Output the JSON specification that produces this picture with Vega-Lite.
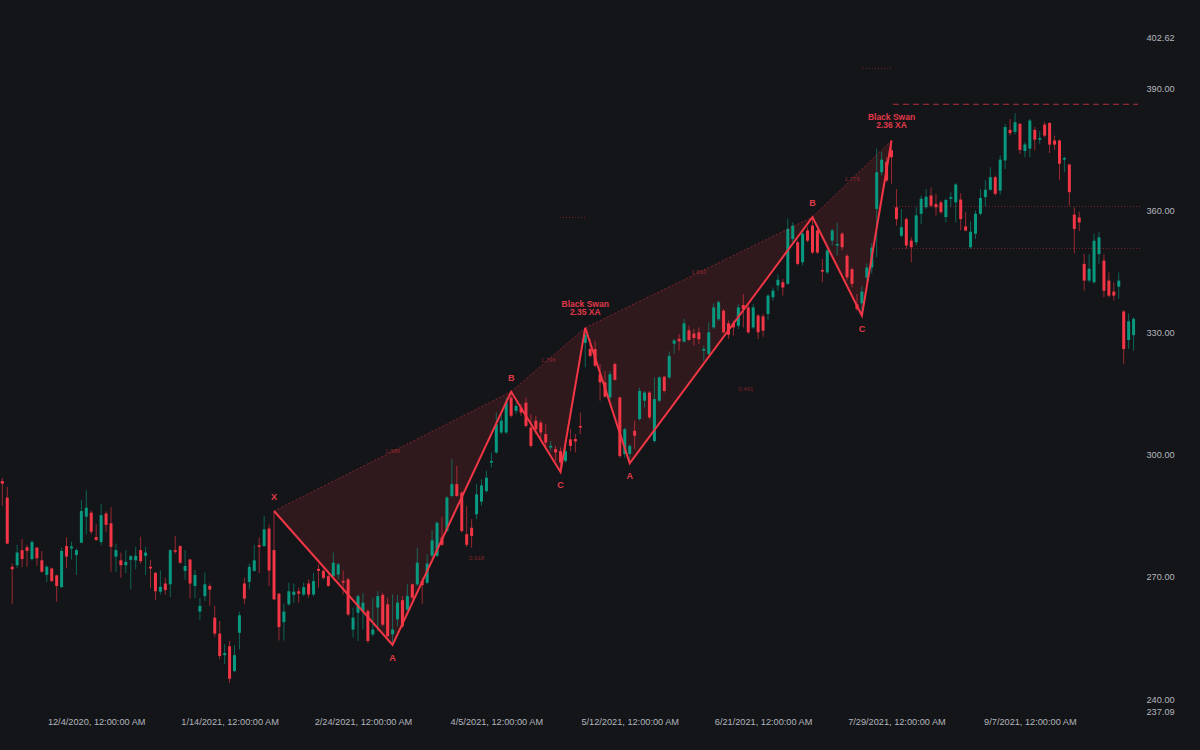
{
"$schema": "https://vega.github.io/schema/vega-lite/v6.json",
"width": 1140, "height": 674,
"autosize": {"type": "none"},
"padding": {"left": 0, "top": 37, "right": 60, "bottom": 39},
"background": "#141518",
"config": {"view": {"stroke": null}, "axis": {"grid": false, "domain": false, "ticks": false, "labelColor": "#b2b5be", "labelFont": "Liberation Sans", "labelFontSize": 9.2}},
"resolve": {"axis": {"x": "independent", "y": "independent"}},
"datasets": {
"candles": [
{"t":0,"o":293.6,"h":294.3,"l":287.5,"c":292.9},{"t":1,"o":289.5,"h":292.1,"l":278.1,"c":278.2},{"t":2,"o":272.5,"h":273.3,"l":263.4,"c":271.9},{"t":3,"o":272.9,"h":277.9,"l":272.2,"c":276.0},{"t":4,"o":276.6,"h":279.3,"l":272.4,"c":274.4},{"t":5,"o":277.3,"h":277.9,"l":272.5,"c":276.4},{"t":6,"o":274.4,"h":279.0,"l":274.1,"c":278.6},{"t":7,"o":277.2,"h":277.4,"l":272.7,"c":274.6},{"t":8,"o":274.1,"h":276.4,"l":271.0,"c":271.3},{"t":9,"o":270.5,"h":272.9,"l":268.8,"c":272.5},
{"t":10,"o":272.1,"h":272.3,"l":268.8,"c":269.0},{"t":11,"o":270.4,"h":270.6,"l":263.9,"c":267.8},{"t":12,"o":267.5,"h":277.2,"l":267.4,"c":276.4},{"t":13,"o":277.6,"h":279.7,"l":272.1,"c":275.0},{"t":14,"o":277.0,"h":278.7,"l":274.3,"c":277.5},{"t":15,"o":275.4,"h":277.0,"l":270.5,"c":276.6},{"t":16,"o":278.4,"h":288.9,"l":278.4,"c":286.2},{"t":17,"o":284.8,"h":291.3,"l":280.5,"c":287.0},{"t":18,"o":285.8,"h":286.4,"l":280.5,"c":281.1},{"t":19,"o":279.8,"h":282.9,"l":278.8,"c":279.1},
{"t":20,"o":278.6,"h":288.0,"l":277.8,"c":285.2},{"t":21,"o":285.6,"h":286.1,"l":281.1,"c":282.8},{"t":22,"o":283.2,"h":287.2,"l":271.3,"c":277.4},{"t":23,"o":275.0,"h":278.2,"l":271.3,"c":276.6},{"t":24,"o":274.1,"h":276.0,"l":269.8,"c":272.9},{"t":25,"o":272.9,"h":276.6,"l":271.0,"c":273.7},{"t":26,"o":274.2,"h":275.4,"l":267.0,"c":275.1},{"t":27,"o":274.1,"h":277.4,"l":271.9,"c":275.2},{"t":28,"o":276.6,"h":279.9,"l":273.3,"c":273.9},{"t":29,"o":275.2,"h":277.4,"l":270.5,"c":276.0},
{"t":30,"o":272.5,"h":274.2,"l":267.2,"c":272.1},{"t":31,"o":271.0,"h":271.2,"l":264.3,"c":266.5},{"t":32,"o":266.4,"h":271.6,"l":265.7,"c":267.6},{"t":33,"o":268.4,"h":269.8,"l":265.7,"c":266.8},{"t":34,"o":268.2,"h":276.8,"l":265.1,"c":276.6},{"t":35,"o":276.6,"h":280.1,"l":275.7,"c":276.2},{"t":36,"o":277.6,"h":277.8,"l":273.3,"c":273.5},{"t":37,"o":271.5,"h":276.6,"l":269.3,"c":272.7},{"t":38,"o":274.3,"h":274.5,"l":264.7,"c":268.4},{"t":39,"o":267.8,"h":271.7,"l":264.8,"c":270.5},
{"t":40,"o":261.5,"h":264.9,"l":259.4,"c":262.9},{"t":41,"o":265.3,"h":271.1,"l":264.1,"c":268.2},{"t":42,"o":267.8,"h":268.4,"l":262.9,"c":266.9},{"t":43,"o":260.0,"h":262.9,"l":255.3,"c":256.1},{"t":44,"o":256.1,"h":259.2,"l":249.8,"c":250.6},{"t":45,"o":250.8,"h":253.5,"l":248.7,"c":251.3},{"t":46,"o":253.0,"h":254.3,"l":244.0,"c":245.0},{"t":47,"o":246.9,"h":253.3,"l":246.7,"c":250.8},{"t":48,"o":256.3,"h":261.5,"l":252.2,"c":260.6},{"t":49,"o":268.4,"h":269.8,"l":263.3,"c":264.7},
{"t":50,"o":268.8,"h":273.3,"l":267.0,"c":272.5},{"t":51,"o":271.5,"h":277.9,"l":271.3,"c":274.1},{"t":52,"o":277.8,"h":279.7,"l":271.0,"c":277.4},{"t":53,"o":277.6,"h":285.0,"l":277.4,"c":281.7},{"t":54,"o":281.9,"h":282.9,"l":267.8,"c":271.6},{"t":55,"o":276.6,"h":286.2,"l":264.3,"c":264.5},{"t":56,"o":265.9,"h":266.1,"l":254.4,"c":257.7},{"t":57,"o":258.9,"h":263.5,"l":254.4,"c":261.5},{"t":58,"o":263.3,"h":268.6,"l":262.9,"c":266.5},{"t":59,"o":265.6,"h":268.4,"l":263.7,"c":266.4},
{"t":60,"o":266.5,"h":267.4,"l":263.7,"c":265.9},{"t":61,"o":265.7,"h":268.6,"l":265.3,"c":267.5},{"t":62,"o":268.4,"h":269.4,"l":264.9,"c":265.7},{"t":63,"o":265.7,"h":271.0,"l":265.3,"c":269.0},{"t":64,"o":272.0,"h":273.1,"l":267.4,"c":271.5},{"t":65,"o":271.5,"h":271.9,"l":269.4,"c":269.8},{"t":66,"o":270.2,"h":271.0,"l":267.6,"c":267.8},{"t":67,"o":270.2,"h":276.0,"l":270.0,"c":273.5},{"t":68,"o":270.6,"h":273.5,"l":269.4,"c":273.1},{"t":69,"o":269.0,"h":271.6,"l":265.7,"c":268.6},
{"t":70,"o":269.4,"h":269.8,"l":260.4,"c":260.8},{"t":71,"o":257.1,"h":262.5,"l":255.1,"c":260.0},{"t":72,"o":261.2,"h":265.7,"l":254.3,"c":265.3},{"t":73,"o":261.6,"h":266.1,"l":257.1,"c":263.7},{"t":74,"o":261.6,"h":262.1,"l":253.8,"c":254.3},{"t":75,"o":255.9,"h":264.9,"l":255.5,"c":257.1},{"t":76,"o":262.5,"h":266.5,"l":256.7,"c":265.3},{"t":77,"o":265.6,"h":266.1,"l":257.9,"c":258.3},{"t":78,"o":263.3,"h":264.9,"l":255.1,"c":255.5},{"t":79,"o":255.9,"h":265.7,"l":253.3,"c":257.1},
{"t":80,"o":259.6,"h":265.7,"l":257.9,"c":263.7},{"t":81,"o":264.3,"h":265.3,"l":257.5,"c":257.9},{"t":82,"o":262.0,"h":268.2,"l":261.6,"c":265.3},{"t":83,"o":268.2,"h":268.4,"l":264.5,"c":264.9},{"t":84,"o":268.2,"h":277.2,"l":267.8,"c":273.5},{"t":85,"o":269.0,"h":269.8,"l":263.4,"c":268.0},{"t":86,"o":268.6,"h":275.6,"l":268.2,"c":273.3},{"t":87,"o":275.2,"h":281.5,"l":274.8,"c":279.0},{"t":88,"o":275.2,"h":283.7,"l":274.9,"c":283.3},{"t":89,"o":279.7,"h":284.8,"l":277.6,"c":277.9},
{"t":90,"o":281.3,"h":289.9,"l":280.9,"c":289.5},{"t":91,"o":289.9,"h":298.9,"l":289.5,"c":292.8},{"t":92,"o":292.8,"h":297.3,"l":289.7,"c":289.9},{"t":93,"o":290.7,"h":291.1,"l":280.9,"c":281.3},{"t":94,"o":280.5,"h":287.4,"l":277.4,"c":277.9},{"t":95,"o":282.1,"h":284.2,"l":277.2,"c":280.1},{"t":96,"o":285.4,"h":292.8,"l":284.2,"c":290.3},{"t":97,"o":288.5,"h":294.0,"l":287.5,"c":292.5},{"t":98,"o":291.1,"h":296.1,"l":290.7,"c":294.4},{"t":99,"o":298.1,"h":300.6,"l":296.9,"c":298.5},
{"t":100,"o":300.6,"h":310.4,"l":300.2,"c":307.5},{"t":101,"o":305.5,"h":310.4,"l":305.1,"c":308.4},{"t":102,"o":305.5,"h":314.1,"l":305.1,"c":312.9},{"t":103,"o":314.1,"h":315.5,"l":309.2,"c":309.6},{"t":104,"o":310.8,"h":312.9,"l":310.0,"c":312.0},{"t":105,"o":311.6,"h":312.5,"l":309.6,"c":310.4},{"t":106,"o":312.8,"h":314.1,"l":306.7,"c":307.1},{"t":107,"o":306.7,"h":310.0,"l":301.8,"c":302.2},{"t":108,"o":308.4,"h":309.6,"l":305.1,"c":306.3},{"t":109,"o":307.9,"h":308.4,"l":303.9,"c":305.5},
{"t":110,"o":305.1,"h":307.5,"l":301.8,"c":303.0},{"t":111,"o":301.8,"h":303.4,"l":300.9,"c":302.2},{"t":112,"o":301.4,"h":302.2,"l":298.5,"c":300.6},{"t":113,"o":300.9,"h":301.8,"l":295.8,"c":298.1},{"t":114,"o":298.5,"h":301.8,"l":298.1,"c":300.9},{"t":115,"o":303.8,"h":306.3,"l":300.9,"c":302.2},{"t":116,"o":303.9,"h":305.1,"l":300.6,"c":303.3},{"t":117,"o":307.1,"h":310.4,"l":305.1,"c":306.7},{"t":118,"o":327.5,"h":331.2,"l":321.5,"c":329.5},{"t":119,"o":326.0,"h":328.4,"l":323.9,"c":324.3},
{"t":120,"o":326.0,"h":328.0,"l":321.5,"c":321.9},{"t":121,"o":319.8,"h":322.3,"l":313.3,"c":317.8},{"t":122,"o":317.8,"h":320.6,"l":314.0,"c":314.3},{"t":123,"o":314.1,"h":320.6,"l":313.3,"c":319.8},{"t":124,"o":322.3,"h":322.7,"l":318.2,"c":318.4},{"t":125,"o":314.1,"h":314.3,"l":299.3,"c":299.7},{"t":126,"o":300.2,"h":306.7,"l":299.3,"c":306.3},{"t":127,"o":300.2,"h":302.6,"l":297.9,"c":302.2},{"t":128,"o":305.9,"h":308.4,"l":301.4,"c":304.7},{"t":129,"o":308.8,"h":316.5,"l":308.4,"c":315.7},
{"t":130,"o":313.3,"h":315.7,"l":311.6,"c":315.3},{"t":131,"o":315.3,"h":315.7,"l":308.8,"c":309.2},{"t":132,"o":303.4,"h":319.0,"l":303.0,"c":313.7},{"t":133,"o":313.3,"h":319.4,"l":312.9,"c":319.0},{"t":134,"o":319.2,"h":319.4,"l":315.3,"c":315.7},{"t":135,"o":319.0,"h":325.4,"l":318.6,"c":324.3},{"t":136,"o":327.3,"h":328.5,"l":324.8,"c":328.1},{"t":137,"o":328.5,"h":329.7,"l":325.6,"c":327.9},{"t":138,"o":327.8,"h":333.4,"l":327.6,"c":332.3},{"t":139,"o":330.6,"h":331.7,"l":328.0,"c":328.2},
{"t":140,"o":329.8,"h":330.9,"l":326.8,"c":328.7},{"t":141,"o":330.1,"h":331.3,"l":327.2,"c":328.4},{"t":142,"o":325.6,"h":326.8,"l":323.1,"c":326.0},{"t":143,"o":324.8,"h":332.5,"l":324.3,"c":330.1},{"t":144,"o":331.3,"h":337.2,"l":330.9,"c":336.2},{"t":145,"o":333.3,"h":337.9,"l":332.9,"c":337.5},{"t":146,"o":335.4,"h":335.8,"l":329.7,"c":330.1},{"t":147,"o":332.3,"h":333.0,"l":328.5,"c":329.5},{"t":148,"o":332.3,"h":333.0,"l":329.3,"c":331.3},{"t":149,"o":331.7,"h":337.0,"l":330.9,"c":336.2},
{"t":150,"o":336.8,"h":339.5,"l":331.3,"c":335.8},{"t":151,"o":336.2,"h":337.0,"l":329.7,"c":330.1},{"t":152,"o":331.3,"h":337.0,"l":330.9,"c":336.2},{"t":153,"o":334.2,"h":334.6,"l":328.4,"c":330.1},{"t":154,"o":334.0,"h":334.6,"l":329.0,"c":330.5},{"t":155,"o":334.6,"h":339.5,"l":333.0,"c":339.1},{"t":156,"o":338.7,"h":341.1,"l":337.9,"c":340.3},{"t":157,"o":341.6,"h":344.4,"l":340.3,"c":343.0},{"t":158,"o":342.4,"h":343.2,"l":339.1,"c":341.1},{"t":159,"o":342.0,"h":358.0,"l":341.8,"c":355.5},
{"t":160,"o":353.0,"h":357.1,"l":351.8,"c":356.3},{"t":161,"o":352.2,"h":352.6,"l":346.5,"c":346.9},{"t":162,"o":347.3,"h":354.7,"l":346.5,"c":354.3},{"t":163,"o":355.1,"h":355.9,"l":352.2,"c":352.6},{"t":164,"o":356.3,"h":358.4,"l":349.3,"c":349.7},{"t":165,"o":355.1,"h":355.4,"l":349.3,"c":349.7},{"t":166,"o":345.4,"h":348.1,"l":342.4,"c":345.0},{"t":167,"o":344.8,"h":350.6,"l":344.4,"c":350.2},{"t":168,"o":352.6,"h":355.5,"l":351.4,"c":355.1},{"t":169,"o":351.4,"h":357.0,"l":348.9,"c":351.8},
{"t":170,"o":354.3,"h":354.7,"l":350.2,"c":351.0},{"t":171,"o":348.9,"h":349.3,"l":342.8,"c":343.6},{"t":172,"o":345.6,"h":346.0,"l":341.1,"c":342.0},{"t":173,"o":337.0,"h":339.5,"l":335.4,"c":335.8},{"t":174,"o":337.2,"h":341.5,"l":334.2,"c":340.1},{"t":175,"o":343.5,"h":347.0,"l":342.5,"c":346.0},{"t":176,"o":346.0,"h":352.0,"l":344.5,"c":350.9},{"t":177,"o":360.4,"h":375.2,"l":348.5,"c":369.4},{"t":178,"o":369.4,"h":374.3,"l":368.6,"c":372.5},{"t":179,"o":371.9,"h":373.1,"l":367.0,"c":367.4},
{"t":180,"o":374.8,"h":377.2,"l":366.6,"c":373.1},{"t":181,"o":360.8,"h":365.3,"l":356.3,"c":357.9},{"t":182,"o":353.8,"h":360.4,"l":353.4,"c":355.9},{"t":183,"o":357.9,"h":358.3,"l":350.6,"c":351.4},{"t":184,"o":352.6,"h":353.4,"l":347.3,"c":351.0},{"t":185,"o":352.2,"h":360.8,"l":351.4,"c":358.8},{"t":186,"o":359.2,"h":363.7,"l":356.7,"c":362.9},{"t":187,"o":360.8,"h":365.3,"l":360.4,"c":363.4},{"t":188,"o":363.7,"h":365.7,"l":360.8,"c":361.2},{"t":189,"o":361.6,"h":364.1,"l":358.8,"c":360.8},
{"t":190,"o":362.0,"h":362.5,"l":359.2,"c":359.6},{"t":191,"o":358.4,"h":362.9,"l":357.1,"c":362.6},{"t":192,"o":362.9,"h":364.5,"l":360.8,"c":363.3},{"t":193,"o":362.0,"h":366.7,"l":357.1,"c":366.4},{"t":194,"o":362.7,"h":364.2,"l":355.1,"c":357.9},{"t":195,"o":356.1,"h":359.6,"l":354.9,"c":355.1},{"t":196,"o":351.0,"h":357.4,"l":350.6,"c":354.8},{"t":197,"o":354.3,"h":360.0,"l":353.0,"c":359.2},{"t":198,"o":359.2,"h":365.3,"l":358.8,"c":363.1},{"t":199,"o":363.3,"h":367.5,"l":361.0,"c":365.1},
{"t":200,"o":365.1,"h":370.6,"l":364.9,"c":368.2},{"t":201,"o":368.2,"h":368.6,"l":363.7,"c":364.1},{"t":202,"o":364.9,"h":373.5,"l":363.9,"c":372.5},{"t":203,"o":372.3,"h":381.3,"l":370.2,"c":380.5},{"t":204,"o":379.8,"h":382.5,"l":378.4,"c":379.0},{"t":205,"o":379.3,"h":383.9,"l":378.7,"c":381.7},{"t":206,"o":381.3,"h":381.5,"l":373.9,"c":374.9},{"t":207,"o":374.6,"h":376.8,"l":373.1,"c":376.2},{"t":208,"o":375.2,"h":382.5,"l":373.1,"c":382.1},{"t":209,"o":379.8,"h":380.5,"l":374.8,"c":377.4},
{"t":210,"o":377.4,"h":379.5,"l":376.4,"c":377.8},{"t":211,"o":381.1,"h":381.7,"l":378.0,"c":378.4},{"t":212,"o":381.5,"h":381.7,"l":374.1,"c":376.2},{"t":213,"o":377.2,"h":378.4,"l":374.9,"c":376.2},{"t":214,"o":377.2,"h":377.4,"l":367.4,"c":371.5},{"t":215,"o":372.5,"h":373.3,"l":369.4,"c":372.9},{"t":216,"o":371.3,"h":371.5,"l":361.2,"c":364.5},{"t":217,"o":359.0,"h":360.8,"l":349.5,"c":355.5},{"t":218,"o":358.3,"h":359.7,"l":354.9,"c":357.1},{"t":219,"o":346.9,"h":349.3,"l":340.3,"c":342.8},
{"t":220,"o":342.8,"h":349.3,"l":342.4,"c":345.7},{"t":221,"o":342.4,"h":354.3,"l":342.0,"c":352.6},{"t":222,"o":349.3,"h":354.7,"l":346.9,"c":353.4},{"t":223,"o":347.7,"h":349.2,"l":338.7,"c":340.3},{"t":224,"o":342.8,"h":344.8,"l":338.7,"c":339.1},{"t":225,"o":340.1,"h":342.4,"l":337.9,"c":339.1},{"t":226,"o":341.3,"h":344.8,"l":338.3,"c":342.8},{"t":227,"o":335.2,"h":335.6,"l":322.3,"c":326.0},{"t":228,"o":328.2,"h":334.7,"l":326.0,"c":332.8},{"t":229,"o":329.4,"h":333.8,"l":325.6,"c":333.4}
],
"tri": [
{"g":"t1","k":0,"t":55,"p":286.2},{"g":"t1","k":1,"t":79,"p":253.3},{"g":"t1","k":2,"t":103,"p":315.5},
{"g":"t2","k":0,"t":103,"p":315.5},{"g":"t2","k":1,"t":113,"p":295.8},{"g":"t2","k":2,"t":118,"p":331.2},
{"g":"t3","k":0,"t":118,"p":331.2},{"g":"t3","k":1,"t":127,"p":297.9},{"g":"t3","k":2,"t":164,"p":358.4},
{"g":"t4","k":0,"t":164,"p":358.4},{"g":"t4","k":1,"t":174,"p":334.2},{"g":"t4","k":2,"t":180,"p":377.2}
],
"legs": [
{"g":"p1","k":0,"t":55,"p":286.2},{"g":"p1","k":1,"t":79,"p":253.3},{"g":"p1","k":2,"t":103,"p":315.5},{"g":"p1","k":3,"t":113,"p":295.8},{"g":"p1","k":4,"t":118,"p":331.2},
{"g":"p2","k":0,"t":118,"p":331.2},{"g":"p2","k":1,"t":127,"p":297.9},{"g":"p2","k":2,"t":164,"p":358.4},{"g":"p2","k":3,"t":174,"p":334.2},{"g":"p2","k":4,"t":180,"p":377.2}
],
"diag": [
{"g":"d1","k":0,"t":55,"p":286.2},{"g":"d1","k":1,"t":103,"p":315.5},
{"g":"d2","k":0,"t":103,"p":315.5},{"g":"d2","k":1,"t":118,"p":331.2},
{"g":"d3","k":0,"t":118,"p":331.2},{"g":"d3","k":1,"t":164,"p":358.4},
{"g":"d4","k":0,"t":164,"p":358.4},{"g":"d4","k":1,"t":180,"p":377.2}
],
"above": [
{"t":55,"p":286.2,"label":"X"},{"t":103,"p":315.5,"label":"B"},{"t":164,"p":358.4,"label":"B"}
],
"below": [
{"t":79,"p":253.3,"label":"A"},{"t":113,"p":295.8,"label":"C"},{"t":127,"p":297.9,"label":"A"},{"t":174,"p":334.2,"label":"C"}
],
"swan": [
{"t":118,"p":331.2,"label":"Black Swan\n2.35 XA"},{"t":180,"p":377.2,"label":"Black Swan\n2.36 XA"}
],
"ratios": [
{"t":79,"p":300.85,"label":"1.886"},{"t":96,"p":274.55,"label":"0.318"},{"t":110.5,"p":323.35,"label":"1.796"},
{"t":141,"p":344.8,"label":"1.892"},{"t":150.5,"p":316.05,"label":"0.401"},{"t":172,"p":367.8,"label":"1.779"}
],
"dashed": [
{"t":180.3,"t2":229.9,"p":386.1}
],
"dotted": [
{"t":180.3,"t2":230.3,"p":361.0},{"t":180.3,"t2":230.3,"p":350.7},{"t":174.2,"t2":180.3,"p":394.9},{"t":112.9,"t2":118,"p":358.3}
]
},
"layer": [
{"data": {"name": "tri"},
 "mark": {"type": "line", "interpolate": "linear-closed", "fill": "#f23645", "fillOpacity": 0.13, "strokeOpacity": 0},
 "encoding": {
  "x": {"field": "t", "type": "quantitative", "scale": {"domain": [-0.47, 230.3], "nice": false, "zero": false, "padding": 0}, "axis": null},
  "y": {"field": "p", "type": "quantitative", "scale": {"domain": [237.09, 402.62], "nice": false, "zero": false, "padding": 0}, "axis": null},
  "detail": {"field": "g"}, "order": {"field": "k"}}},
{"data": {"name": "candles"},
 "mark": {"type": "rule", "strokeWidth": 1, "opacity": 0.6},
 "encoding": {
  "x": {"field": "t", "type": "quantitative", "scale": {"domain": [-0.47, 230.3], "nice": false, "zero": false, "padding": 0},
   "axis": {"title": null, "values": [19,46,73,100,127,154,181,208], "labelExpr": "['12/4/2020, 12:00:00 AM','1/14/2021, 12:00:00 AM','2/24/2021, 12:00:00 AM','4/5/2021, 12:00:00 AM','5/12/2021, 12:00:00 AM','6/21/2021, 12:00:00 AM','7/29/2021, 12:00:00 AM','9/7/2021, 12:00:00 AM'][round((datum.value-19)/27)]", "labelPadding": 6, "labelFlush": false, "labelOverlap": false}},
  "y": {"field": "l", "type": "quantitative", "scale": {"domain": [237.09, 402.62], "nice": false, "zero": false, "padding": 0},
   "axis": {"title": null, "orient": "right", "values": [237.09,240,270,300,330,360,390,402.62], "format": ".2f", "labelPadding": 6, "labelFlush": false, "labelOverlap": false, "labelBound": false}},
  "y2": {"field": "h"},
  "color": {"condition": {"test": "datum.c >= datum.o", "value": "#089981"}, "value": "#f23645"}}},
{"data": {"name": "candles"},
 "mark": {"type": "bar", "width": 3},
 "encoding": {
  "x": {"field": "t", "type": "quantitative", "axis": null},
  "y": {"field": "o", "type": "quantitative", "axis": null},
  "y2": {"field": "c"},
  "color": {"condition": {"test": "datum.c >= datum.o", "value": "#089981"}, "value": "#f23645"}}},
{"data": {"name": "diag"},
 "mark": {"type": "line", "stroke": "#f23645", "strokeWidth": 1, "strokeDash": [2, 2], "opacity": 0.45},
 "encoding": {"x": {"field": "t", "type": "quantitative", "axis": null}, "y": {"field": "p", "type": "quantitative", "axis": null}, "detail": {"field": "g"}, "order": {"field": "k"}}},
{"data": {"name": "legs"},
 "mark": {"type": "line", "stroke": "#f23645", "strokeWidth": 2},
 "encoding": {"x": {"field": "t", "type": "quantitative", "axis": null}, "y": {"field": "p", "type": "quantitative", "axis": null}, "detail": {"field": "g"}, "order": {"field": "k"}}},
{"data": {"name": "dashed"},
 "mark": {"type": "rule", "stroke": "#d0333f", "strokeWidth": 1, "strokeDash": [6, 4], "opacity": 0.85},
 "encoding": {"x": {"field": "t", "type": "quantitative", "axis": null}, "x2": {"field": "t2"}, "y": {"field": "p", "type": "quantitative", "axis": null}}},
{"data": {"name": "dotted"},
 "mark": {"type": "rule", "stroke": "#f23645", "strokeWidth": 1, "strokeDash": [1, 2], "opacity": 0.45},
 "encoding": {"x": {"field": "t", "type": "quantitative", "axis": null}, "x2": {"field": "t2"}, "y": {"field": "p", "type": "quantitative", "axis": null}}},
{"data": {"name": "ratios"},
 "mark": {"type": "text", "fill": "#f23645", "opacity": 0.45, "fontSize": 6, "font": "Liberation Sans"},
 "encoding": {"x": {"field": "t", "type": "quantitative", "axis": null}, "y": {"field": "p", "type": "quantitative", "axis": null}, "text": {"field": "label"}}},
{"data": {"name": "above"},
 "mark": {"type": "text", "fill": "#e0394a", "fontSize": 9, "fontWeight": "bold", "font": "Liberation Sans", "dy": -14},
 "encoding": {"x": {"field": "t", "type": "quantitative", "axis": null}, "y": {"field": "p", "type": "quantitative", "axis": null}, "text": {"field": "label"}}},
{"data": {"name": "below"},
 "mark": {"type": "text", "fill": "#e0394a", "fontSize": 9, "fontWeight": "bold", "font": "Liberation Sans", "dy": 13},
 "encoding": {"x": {"field": "t", "type": "quantitative", "axis": null}, "y": {"field": "p", "type": "quantitative", "axis": null}, "text": {"field": "label"}}},
{"data": {"name": "swan"},
 "mark": {"type": "text", "fill": "#e0394a", "fontSize": 8.5, "fontWeight": "bold", "font": "Liberation Sans", "baseline": "bottom", "dy": -19, "lineBreak": "\n", "lineHeight": 8.5},
 "encoding": {"x": {"field": "t", "type": "quantitative", "axis": null}, "y": {"field": "p", "type": "quantitative", "axis": null}, "text": {"field": "label"}}}
]
}
